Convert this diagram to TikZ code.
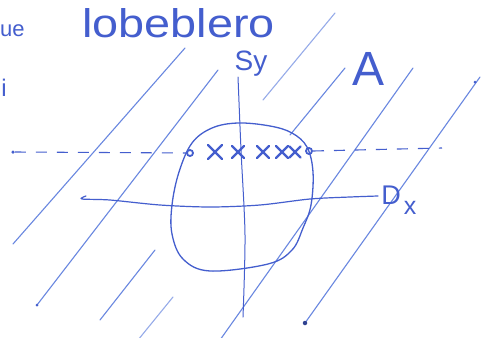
\documentclass[tikz,border=0pt]{standalone}
\usepackage{fontspec}
\setmainfont{Liberation Sans}
\begin{document}
\begin{tikzpicture}[x=1pt,y=-1pt,
  hatch/.style={draw=lightink,line width=1.1pt,line cap=round},
  axisline/.style={draw=ink,line width=1.2pt,line cap=round},
  dashline/.style={draw=ink,line width=1.1pt,dash pattern=on 11pt off 10pt},
  crossmark/.style={draw=ink,line width=2.4pt,line cap=round},
  ringmark/.style={draw=ink,line width=1.8pt},
  handtext/.style={text=ink,inner sep=0pt},
  inkdot/.style={fill=ink,circle,inner sep=0pt,minimum size=3.5pt}]
\definecolor{ink}{RGB}{68,94,206}
\definecolor{lightink}{RGB}{105,135,224}
\useasboundingbox (0,0) rectangle (483,338);
\clip (0,0) rectangle (483,338);
\fill[white] (0,0) rectangle (483,338);

% hatch lines
\coordinate (h1a) at (185,48);  \coordinate (h1b) at (13,244);
\coordinate (h2a) at (218,70);  \coordinate (h2b) at (37,305);
\coordinate (h3a) at (335,13);  \coordinate (h3b) at (263,100);
\coordinate (h4a) at (345,68);  \coordinate (h4b) at (290,135);
\coordinate (h5a) at (413,68);  \coordinate (h5b) at (220,340);
\coordinate (h6a) at (480,77);  \coordinate (h6b) at (305,323);
\coordinate (h7a) at (155,250); \coordinate (h7b) at (100,320);
\coordinate (h8a) at (173,297); \coordinate (h8b) at (138,340);
\draw[hatch] (h1a) -- (h1b);
\draw[hatch] (h2a) -- (h2b);
\draw[hatch,draw=lightink!70] (h3a) -- (h3b);
\draw[hatch] (h4a) -- (h4b);
\draw[hatch] (h5a) -- (h5b);
\draw[hatch] (h6a) -- (h6b);
\draw[hatch] (h7a) -- (h7b);
\draw[hatch,draw=lightink!70] (h8a) -- (h8b);
\node[inkdot,minimum size=3pt] (d2) at (h2b) {};
\node[inkdot,minimum size=4.5pt,fill=ink!70!black] (d6) at (h6b) {};
\node[inkdot,minimum size=3pt] (d6a) at (475,82) {};

% blob (circle)
\draw[axisline,line width=1.3pt] plot[smooth cycle,tension=0.6] coordinates
 {(238,123) (270,126) (292,133) (307,147) (313,172) (311,205) (303,228)
  (292,250) (268,264) (210,271) (183,259) (172,234) (172,205) (179,172)
  (192,143) (212,128)};

% vertical axis
\draw[axisline,line width=1pt] plot[smooth] coordinates {(238,77) (241,150) (245,235) (243,317)};
% horizontal axis
\draw[axisline] plot[smooth] coordinates {(86,196) (82,199) (110,200) (160,205) (210,207) (260,205) (310,199) (350,197) (378,196)};

% dashed line
\node[inkdot] (dl) at (13,152) {};
\coordinate (dm1) at (186,153);
\coordinate (dm2) at (313,151);
\coordinate (dr) at (442,148);
\draw[dashline] (dl) -- (dm1);
\draw[dashline] (dm2) -- (dr);

% markers
\node[ringmark,circle,inner sep=0pt,minimum size=6pt] (r1) at (190,153) {};
\node[ringmark,circle,inner sep=0pt,minimum size=6pt] (r2) at (309,151) {};
\foreach \cx/\s in {215/7, 238/6, 263/6, 282/6, 295/5.5}{
  \draw[crossmark] (\cx-\s,152-\s) -- (\cx+\s,152+\s);
  \draw[crossmark] (\cx-\s,152+\s) -- (\cx+\s,152-\s);
}

% texts
\node[handtext,anchor=west,font=\fontsize{40}{40}\selectfont,xscale=1.17] (title) at (82,23) {lobeblero};
\node[handtext,font=\fontsize{28}{28}\selectfont] (Sy) at (251,64) {Sy};
\node[handtext,font=\fontsize{48}{48}\selectfont] (A) at (369,69) {A};
\node[handtext,font=\fontsize{27}{27}\selectfont] (Dx) at (391,195) {D};
\node[handtext,font=\fontsize{25}{25}\selectfont] (Dxs) at (410,208) {x};
\node[handtext,anchor=west,font=\fontsize{22}{22}\selectfont] (lt1) at (0,31) {ue};
\node[handtext,font=\fontsize{24}{24}\selectfont] (lt2) at (4,88) {i};
\end{tikzpicture}
\end{document}
